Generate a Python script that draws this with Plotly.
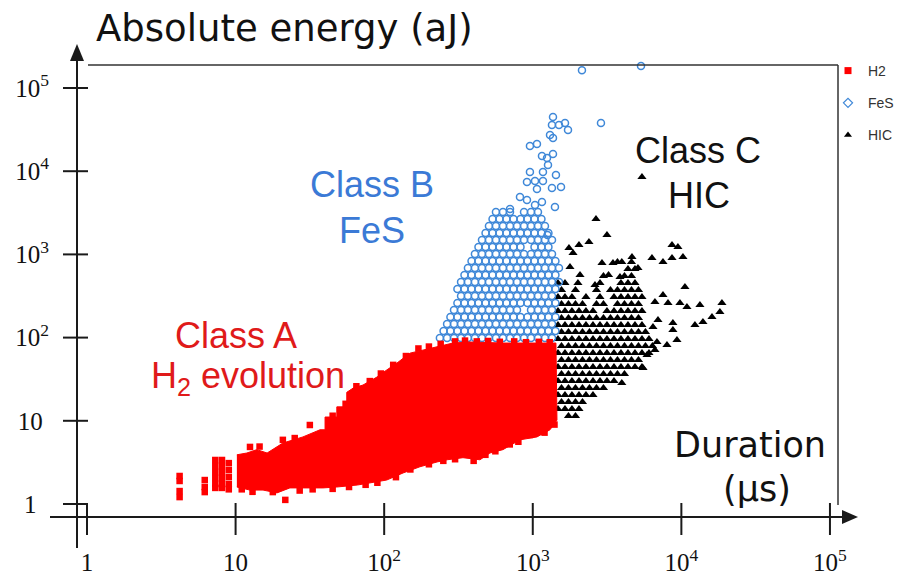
import math
import plotly.graph_objects as go

# ---------------- data ----------------
x_tick_values = [1, 10, 100, 1000, 10000, 100000]
x_tick_labels = ["1", "10", "10<sup>2</sup>", "10<sup>3</sup>", "10<sup>4</sup>", "10<sup>5</sup>"]
y_tick_values = [1, 10, 100, 1000, 10000, 100000]
y_tick_labels = ["1\u00a0\u00a0", "10\u00a0", "10<sup>2</sup>", "10<sup>3</sup>", "10<sup>4</sup>", "10<sup>5</sup>"]

# Class A (H2 evolution): outline of the dense cloud of squares
h2_outline_duration = [10.2, 11.9, 13.9, 16.3, 20.8, 28.4, 37, 40, 40, 48, 48, 56, 56, 62, 72, 89.5, 104, 122,
                       149, 182, 227, 290, 378, 630, 1067, 1432, 1455, 1306, 1067, 820, 630, 515, 441, 339,
                       265, 227, 174, 134, 104, 80, 66, 48, 38.7, 23.2, 19, 15.3, 12.5, 10.2]
h2_outline_energy = [3.9, 4.1, 4.5, 4.1, 5.4, 6.4, 7.8, 7.8, 11.1, 11.1, 14.7, 14.7, 22, 24.8, 26.9, 33.6, 40.8,
                     49.5, 65, 71, 77, 86, 88.5, 86, 86, 86, 10.2, 7.8, 6.4, 5.9, 4.5, 4.1, 3.4, 3.6,
                     3.4, 3.2, 2.8, 2.36, 1.94, 1.79, 1.69, 1.6, 1.56, 1.56, 1.36, 1.47, 1.47, 1.6]
# individual H2 squares (isolated and edge points)
h2_duration = [4.2, 4.2, 4.2, 4.2, 6.2, 6.2, 6.2,
               7.3, 7.3, 7.3, 7.3, 7.3, 7.3, 8.1, 8.1, 8.1, 8.1, 8.1, 8.1,
               9.0, 9.0, 9.0, 9.0, 9.0,
               12.5, 14.5, 20.8, 25, 31.6, 45, 55, 65, 80, 95, 115, 140, 170, 200, 240, 300, 350,
               420, 500, 600, 750, 900, 1100, 1300,
               21.6, 17.8, 13, 11, 27, 33, 45, 58, 75, 90, 120, 150, 200, 250, 300, 400, 480,
               560, 700, 800, 957, 1200, 1400]
h2_energy = [2.17, 1.89, 1.43, 1.21, 1.94, 1.6, 1.39,
             3.38, 2.86, 2.42, 2.05, 1.74, 1.56, 3.38, 2.86, 2.42, 2.05, 1.74, 1.56,
             3.1, 2.56, 2.11, 1.74, 1.5,
             4.85, 4.9, 5.9, 6.2, 8.9, 11.5, 16, 26, 30, 37, 47, 60, 74, 78, 84, 90, 92,
             90, 91, 89, 90, 88, 89, 88,
             1.12, 1.39, 1.4, 1.5, 1.45, 1.5, 1.52, 1.6, 1.7, 1.8, 2.1, 2.6, 3.0, 3.3, 3.45, 3.3, 3.9,
             4.3, 5.2, 5.6, 6.75, 7.2, 9]

# Class B (FeS): dense part, read row by row (energy of row, durations in row)
fes_row_energy = [99, 120, 146, 177, 215, 261, 316, 384, 466, 565, 687, 833, 1011, 1227, 1490, 1808, 2195, 2664, 3233]
fes_row_durations = [
    [237, 265, 295, 329, 366, 408, 455, 507, 565, 630, 703, 783, 873, 973, 1084, 1208, 1347],
    [251, 279, 311, 347, 387, 431, 481, 536, 597, 665, 742, 827, 921, 1027, 1144, 1275, 1421],
    [265, 295, 329, 366, 408, 455, 507, 565, 630, 703, 783, 873, 973, 1084, 1208, 1347],
    [279, 311, 347, 387, 431, 481, 536, 597, 665, 742, 827, 921, 1027, 1144, 1275, 1421],
    [295, 329, 366, 408, 455, 507, 565, 630, 703, 783, 973, 1084, 1208, 1347],
    [311, 347, 387, 431, 481, 536, 597, 665, 742, 827, 921, 1027, 1144, 1275, 1421],
    [329, 366, 408, 455, 507, 565, 630, 703, 783, 873, 973, 1084, 1208, 1347],
    [311, 347, 387, 431, 481, 536, 597, 665, 742, 827, 921, 1027, 1144, 1275, 1421],
    [329, 366, 408, 455, 507, 565, 630, 703, 783, 873, 973, 1084, 1208, 1347, 1501],
    [347, 387, 431, 481, 536, 597, 665, 742, 827, 921, 1027, 1144, 1275, 1421],
    [366, 408, 455, 507, 565, 630, 703, 783, 873, 973, 1084, 1208, 1347, 1501],
    [387, 431, 481, 536, 597, 665, 742, 827, 921, 1027, 1144, 1275, 1421],
    [408, 455, 507, 565, 630, 703, 783, 873, 973, 1084, 1208, 1347],
    [431, 481, 536, 597, 665, 742, 827, 1027, 1144, 1275],
    [455, 507, 565, 630, 703, 783, 873, 973, 1084, 1208, 1347],
    [481, 536, 597, 665, 742, 827, 921, 1027, 1144, 1275],
    [507, 565, 630, 703, 783, 873, 973, 1084, 1208],
    [536, 597, 665, 742, 827, 921, 1027, 1144],
    [565, 630, 703, 873, 973, 1084],
]
# Class B (FeS): sparse upper points
fes_extra_duration = [1368, 1346, 1501, 1648, 1726, 1306, 1368, 957, 1067, 1153, 1247, 1368, 1266, 957, 1171,
                      1432, 914, 1035, 1171, 1346, 1549, 1067, 820, 914, 1153, 1410, 1035, 703, 1256,
                      2143, 5350, 2877]
fes_extra_energy = [44800, 35900, 35900, 38000, 31300, 27200, 25100, 20100, 21200, 15200, 14400, 16100, 11900,
                    9780, 9780, 9000, 7420, 7630, 7630, 6280, 6460, 6110, 4900, 4510, 4265, 3715, 3925, 3515,
                    1710, 164000, 184000, 38000]

# Class C (HIC): dense part, row by row
hic_row_energy = [811, 668, 550, 453, 373, 308, 253, 209, 172, 142, 117, 96.2, 79.2, 65.3, 53.8, 44.3,
                  36.5, 30.1, 24.8, 20.4, 16.8, 13.9, 11.4]
hic_row_durations = [
    [3715, 4616],
    [4371, 4873],
    [2991, 4141, 4616],
    [1478, 1647, 2833, 3922, 4371, 4873],
    [1561, 1938, 2684, 3334, 3715, 4141, 4616, 5144],
    [1478, 1647, 1835, 2280, 2833, 3519, 3922, 4371, 4873, 5431],
    [1561, 1739, 1938, 2160, 2684, 2991, 3715, 4141, 4616, 5144],
    [1478, 1647, 1835, 2046, 2280, 2542, 3157, 3519, 3922, 4371, 4873, 5431],
    [1561, 1739, 1938, 2160, 2407, 2684, 2991, 3334, 3715, 4141, 4616, 5144],
    [1478, 1647, 1835, 2046, 2280, 2542, 2833, 3157, 3519, 3922, 4371, 4873, 5431],
    [1561, 1739, 1938, 2160, 2407, 2684, 2991, 3334, 3715, 4141, 4616, 5144, 5733],
    [1478, 1647, 1835, 2046, 2280, 2542, 2833, 3157, 3519, 3922, 4371, 4873, 5431, 6053],
    [1561, 1739, 1938, 2160, 2407, 2684, 2991, 3334, 3715, 4141, 4616, 5144, 5733, 6390],
    [1478, 1647, 1835, 2046, 2280, 2542, 2833, 3157, 3519, 3922, 4371, 4873, 5431, 6053],
    [1561, 1739, 1938, 2160, 2407, 2684, 2991, 3334, 3715, 4141, 4616, 5144],
    [1478, 1647, 1835, 2046, 2280, 2542, 2833, 3157, 3519, 3922, 4371, 4873, 5431],
    [1561, 1739, 1938, 2160, 2407, 2684, 2991, 3334, 3715, 4141],
    [1478, 1647, 1835, 2046, 2280, 2542, 2833, 3157, 3519],
    [1561, 1739, 1938, 2160, 2407, 2684, 2991],
    [1478, 1647, 1835, 2046, 2280, 2542],
    [1561, 1739, 1938, 2160],
    [1478, 1647, 1835, 2046],
    [1739, 1938],
]
# Class C (HIC): sparse points
hic_extra_duration = [5430, 2663, 3157, 2388, 2046, 1752, 1866, 1780, 2923, 3466, 2079, 3234, 2014, 2622, 3862,
                      4652, 5103, 3974, 8650, 9480, 6340, 7520, 8650, 10250, 10570, 7520, 6640, 8130, 9780,
                      10900, 13330, 18750, 18170, 16070, 13970, 12340, 8770, 6960, 6440, 8770, 9340, 8000,
                      6850, 6640, 5870, 5520, 3974]
hic_extra_energy = [8510, 2663, 1710, 1410, 1298, 1194, 1040, 706, 788, 788, 565, 565, 453, 429, 535,
                    931, 687, 811, 1298, 1227, 905, 811, 905, 931, 406, 325, 268, 261, 261,
                    233, 247, 261, 203, 177, 154, 142, 150, 163, 134, 123, 93.6, 81.5,
                    88.5, 71, 61.8, 43.1, 28.5]

legend_names = ["H2", "FeS", "HIC"]

# ---------------- layout geometry ----------------
W, H = 903, 578
L, R, T, B = 50, 46, 45, 33
PW, PH = W - L - R, H - T - B
XR = [-0.249, 5.182]
YR = [-0.493, 5.517]


def fx(px):
    return (px - L) / PW


def fy(py):
    return (H - B - py) / PH


def xdata_to_paper(v):
    return (math.log10(v) - XR[0]) / (XR[1] - XR[0])


def ydata_to_paper(v):
    return (math.log10(v) - YR[0]) / (YR[1] - YR[0])


fes_duration, fes_energy = [], []
for e, row in zip(fes_row_energy, fes_row_durations):
    for d in row:
        fes_duration.append(d)
        fes_energy.append(e)
fes_duration += fes_extra_duration
fes_energy += fes_extra_energy

hic_duration, hic_energy = [], []
for e, row in zip(hic_row_energy, hic_row_durations):
    for d in row:
        hic_duration.append(d)
        hic_energy.append(e)
hic_duration += hic_extra_duration
hic_energy += hic_extra_energy

RED = "#ff0000"
BLUE_M = "#3f88d8"
BLACK = "#000000"

fig = go.Figure()

fig.add_trace(go.Scatter(x=hic_duration, y=hic_energy, mode="markers", showlegend=False,
                         marker=dict(symbol="triangle-up", size=8, color=BLACK, line=dict(width=0))))
fig.add_trace(go.Scatter(x=fes_duration, y=fes_energy, mode="markers", showlegend=False,
                         marker=dict(symbol="circle-open", size=7, color=BLUE_M, line=dict(width=1.5, color=BLUE_M))))
fig.add_trace(go.Scatter(x=h2_outline_duration, y=h2_outline_energy, mode="lines", fill="toself",
                         fillcolor=RED, line=dict(color=RED, width=1), showlegend=False, hoverinfo="skip"))
fig.add_trace(go.Scatter(x=h2_duration, y=h2_energy, mode="markers", showlegend=False,
                         marker=dict(symbol="square", size=6.5, color=RED, line=dict(width=0))))

# legend entries
leg_markers = [dict(symbol="square", size=7, color=RED),
               dict(symbol="diamond-open", size=7, color=BLUE_M, line=dict(width=1.2, color=BLUE_M)),
               dict(symbol="triangle-up", size=7, color=BLACK)]
for name, mk in zip(legend_names, leg_markers):
    fig.add_trace(go.Scatter(x=[None], y=[None], mode="markers", name=name, marker=mk,
                             legendgroup=name, showlegend=True))

shapes = []
AX = dict(color="#1a1a1a", width=2)
# y axis line and arrow
shapes.append(dict(type="line", xref="paper", yref="paper", x0=fx(77), x1=fx(77), y0=fy(548), y1=fy(58), line=AX))
shapes.append(dict(type="path", xref="paper", yref="paper",
                   path=f"M {fx(77)} {fy(44)} L {fx(70)} {fy(61)} L {fx(84)} {fy(61)} Z",
                   fillcolor="#1a1a1a", line=dict(width=0)))
# x axis line and arrow
shapes.append(dict(type="line", xref="paper", yref="paper", x0=fx(50), x1=fx(846), y0=fy(517), y1=fy(517), line=AX))
shapes.append(dict(type="path", xref="paper", yref="paper",
                   path=f"M {fx(858)} {fy(517)} L {fx(842)} {fy(510)} L {fx(842)} {fy(524)} Z",
                   fillcolor="#1a1a1a", line=dict(width=0)))
# frame top and right
FR = dict(color="#333333", width=1.5)
shapes.append(dict(type="line", xref="paper", yref="paper", x0=fx(88), x1=fx(838), y0=fy(65), y1=fy(65), line=FR))
shapes.append(dict(type="line", xref="paper", yref="paper", x0=fx(838), x1=fx(838), y0=fy(65), y1=fy(505), line=FR))
# tick marks
for v in x_tick_values:
    p = xdata_to_paper(v)
    shapes.append(dict(type="line", xref="paper", yref="paper", x0=p, x1=p, y0=fy(503), y1=fy(535), line=AX))
for v in y_tick_values:
    p = ydata_to_paper(v)
    shapes.append(dict(type="line", xref="paper", yref="paper", x0=fx(63), x1=fx(88), y0=p, y1=p, line=AX))

SANS = "Liberation Sans, Arial, sans-serif"
TITLE = "DejaVu Sans, Verdana, sans-serif"
ann = []


def label(text, px, py, size, color, family):
    ann.append(dict(text=text, xref="paper", yref="paper", x=fx(px), y=fy(py), xanchor="center",
                    yanchor="middle", showarrow=False, font=dict(size=size, color=color, family=family)))


label("Absolute energy (aJ)", 284, 29, 37, "#111111", TITLE)
label("Duration", 750, 445, 35, "#111111", TITLE)
label("(µs)", 757, 489, 35, "#111111", TITLE)
label("Class B", 372, 184, 36, "#3b7ad6", SANS)
label("FeS", 372, 230, 36, "#3b7ad6", SANS)
label("Class A", 236, 335, 36, "#e01a1a", SANS)
label("H<sub>2</sub> evolution", 248, 378, 36, "#e01a1a", SANS)
label("Class C", 698, 150, 36, "#111111", SANS)
label("HIC", 699, 195, 36, "#111111", SANS)

fig.update_layout(
    width=W, height=H, margin=dict(l=L, r=R, t=T, b=B, autoexpand=False),
    paper_bgcolor="white", plot_bgcolor="white",
    shapes=shapes, annotations=ann,
    xaxis=dict(type="log", range=XR, showgrid=False, zeroline=False, showline=False, ticks="",
               tickmode="array", tickvals=x_tick_values, ticktext=x_tick_labels, automargin=False,
               tickfont=dict(family="Liberation Serif, Times New Roman, serif", size=25, color="#111111")),
    yaxis=dict(type="log", range=YR, showgrid=False, zeroline=False, showline=False, ticks="",
               tickmode="array", tickvals=y_tick_values, ticktext=y_tick_labels, automargin=False,
               tickfont=dict(family="Liberation Serif, Times New Roman, serif", size=25, color="#111111")),
    legend=dict(x=fx(828), y=fy(55), xanchor="left", yanchor="top", bgcolor="rgba(0,0,0,0)",
                font=dict(family=SANS, size=14, color="#333333"), tracegroupgap=11, itemwidth=30),
    showlegend=True,
)

fig.write_html("out.html", post_script="document.body.style.margin='0';",
               config={"displayModeBar": False})
